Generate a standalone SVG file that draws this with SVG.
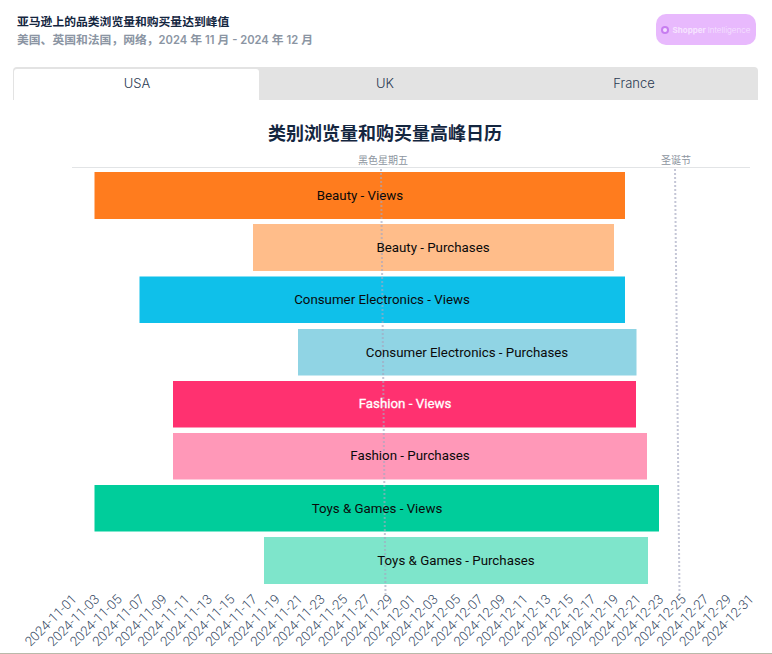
<svg xmlns="http://www.w3.org/2000/svg" width="772" height="654" viewBox="0 0 772 654">
<style>
text{font-family:"Inter","Noto Sans CJK SC",sans-serif}
.bl{font-family:"Roboto","Liberation Sans",sans-serif;font-size:13.300px;fill:#0a0a0a;text-anchor:middle}
.tab{font-size:13px;fill:#2a3a52;text-anchor:middle;font-weight:300}
.tk{font-family:"Roboto","Liberation Sans",sans-serif;font-size:13.300px;font-weight:300;fill:#33475f;text-anchor:end}
.ann{font-size:10px;fill:#8d95a0;text-anchor:middle}
.guide{stroke:#a4a8c0;stroke-opacity:.65;stroke-width:2;stroke-dasharray:2 2;fill:none}
.lt{font-size:11.200px}
</style>
<rect width="772" height="654" fill="#fff"/>
<g id="header">
<text x="17" y="26" font-size="11.800" font-weight="700" fill="#14263f">亚马逊上的品类浏览量和购买量达到峰值</text>
<text x="17" y="44" font-size="11.800" font-weight="600" fill="#8b95a3">美国、英国和法国，网络，<tspan class="lt">2024</tspan> 年 <tspan class="lt">11</tspan> 月 <tspan class="lt">- 2024</tspan> 年 <tspan class="lt">12</tspan> 月</text>
</g>
<g id="logo">
<rect x="656" y="14" width="100" height="31" rx="10" fill="#e8b9fd"/>
<circle cx="665" cy="30" r="4" fill="#c77df0"/>
<circle cx="665" cy="30" r="2" fill="#f3dcff"/>
<text x="672.500" y="33" font-size="8" font-weight="700" fill="#f6e4ff">Shopper <tspan font-weight="300">Intelligence</tspan></text>
</g>
<g id="tabs">
<path d="M13 100V71q0-4 4-4H754q4 0 4 4V100Z" fill="#e3e3e3"/>
<path d="M14 100V72q0-3 3-3H256q3 0 3 3V100Z" fill="#fff"/>
<text class="tab" x="137" y="88">USA</text>
<text class="tab" x="385" y="88">UK</text>
<text class="tab" x="634" y="88">France</text>
</g>
<text x="385" y="140" font-size="18" font-weight="700" fill="#14263f" text-anchor="middle">类别浏览量和购买量高峰日历</text>
<g id="axis">
<line x1="72" y1="167.500" x2="750" y2="167.500" stroke="#e2e4e6"/>
<text class="ann" x="383" y="164">黑色星期五</text>
<text class="ann" x="676" y="164">圣诞节</text>
</g>
<g id="bars">
<g id="n1"><rect x="94.500" y="172" width="530.500" height="47" fill="#ff7c1e"/></g>
<g id="n2"><rect x="253" y="224" width="361" height="47" fill="#ffbd8a"/></g>
<g id="n3"><rect x="139.500" y="276.500" width="485.500" height="46.500" fill="#0fc0ea"/></g>
<g id="n4"><rect x="298" y="329" width="338.500" height="46.500" fill="#90d4e4"/></g>
<g id="n5"><rect x="173" y="381" width="463" height="46.500" fill="#ff3170"/></g>
<g id="n6"><rect x="173" y="433" width="474" height="46.500" fill="#ff98b8"/></g>
<g id="n7"><rect x="94.500" y="485" width="564.500" height="46.500" fill="#00cd9b"/></g>
<g id="n8"><rect x="264" y="537" width="384" height="47" fill="#7ee5cb"/></g>
</g>
<g id="connectors">
<line class="guide" x1="381" y1="169" x2="385.500" y2="595"/>
<line class="guide" x1="675" y1="169" x2="679.500" y2="595"/>
</g>
<g id="labels">
<text class="bl" x="360" y="200">Beauty - Views</text>
<text class="bl" x="433" y="252">Beauty - Purchases</text>
<text class="bl" x="382" y="304">Consumer Electronics - Views</text>
<text class="bl" x="467" y="357">Consumer Electronics - Purchases</text>
<text class="bl" x="405" y="408" style="fill:#fff;stroke:#fff;stroke-width:.3px">Fashion - Views</text>
<text class="bl" x="410" y="460">Fashion - Purchases</text>
<text class="bl" x="377" y="513">Toys &amp; Games - Views</text>
<text class="bl" x="456" y="565">Toys &amp; Games - Purchases</text>
</g>
<g id="ticks">
<text class="tk" transform="translate(77.500 600) rotate(-45)">2024-11-01</text>
<text class="tk" transform="translate(100.100 600) rotate(-45)">2024-11-03</text>
<text class="tk" transform="translate(122.600 600) rotate(-45)">2024-11-05</text>
<text class="tk" transform="translate(145.200 600) rotate(-45)">2024-11-07</text>
<text class="tk" transform="translate(167.800 600) rotate(-45)">2024-11-09</text>
<text class="tk" transform="translate(190.300 600) rotate(-45)">2024-11-11</text>
<text class="tk" transform="translate(212.900 600) rotate(-45)">2024-11-13</text>
<text class="tk" transform="translate(235.500 600) rotate(-45)">2024-11-15</text>
<text class="tk" transform="translate(258 600) rotate(-45)">2024-11-17</text>
<text class="tk" transform="translate(280.600 600) rotate(-45)">2024-11-19</text>
<text class="tk" transform="translate(303.200 600) rotate(-45)">2024-11-21</text>
<text class="tk" transform="translate(325.700 600) rotate(-45)">2024-11-23</text>
<text class="tk" transform="translate(348.300 600) rotate(-45)">2024-11-25</text>
<text class="tk" transform="translate(370.900 600) rotate(-45)">2024-11-27</text>
<text class="tk" transform="translate(393.400 600) rotate(-45)">2024-11-29</text>
<text class="tk" transform="translate(416 600) rotate(-45)">2024-12-01</text>
<text class="tk" transform="translate(438.600 600) rotate(-45)">2024-12-03</text>
<text class="tk" transform="translate(461.100 600) rotate(-45)">2024-12-05</text>
<text class="tk" transform="translate(483.700 600) rotate(-45)">2024-12-07</text>
<text class="tk" transform="translate(506.300 600) rotate(-45)">2024-12-09</text>
<text class="tk" transform="translate(528.800 600) rotate(-45)">2024-12-11</text>
<text class="tk" transform="translate(551.400 600) rotate(-45)">2024-12-13</text>
<text class="tk" transform="translate(574 600) rotate(-45)">2024-12-15</text>
<text class="tk" transform="translate(596.500 600) rotate(-45)">2024-12-17</text>
<text class="tk" transform="translate(619.100 600) rotate(-45)">2024-12-19</text>
<text class="tk" transform="translate(641.700 600) rotate(-45)">2024-12-21</text>
<text class="tk" transform="translate(664.200 600) rotate(-45)">2024-12-23</text>
<text class="tk" transform="translate(686.800 600) rotate(-45)">2024-12-25</text>
<text class="tk" transform="translate(709.400 600) rotate(-45)">2024-12-27</text>
<text class="tk" transform="translate(731.900 600) rotate(-45)">2024-12-29</text>
<text class="tk" transform="translate(754.500 600) rotate(-45)">2024-12-31</text>
</g>
<line x1="0" y1="653.500" x2="772" y2="653.500" stroke="#b9b9aa"/>
</svg>
